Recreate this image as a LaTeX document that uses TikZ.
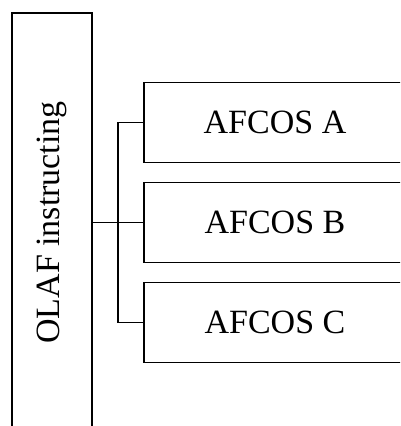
\documentclass[tikz,border=0pt]{standalone}
\usepackage{fontspec}
\setmainfont{Liberation Serif}
\usepackage{graphicx}
\usepackage{tikz}
\usetikzlibrary{positioning}

\begin{document}
\begin{tikzpicture}[x=1pt, y=-1pt, line width=1.4pt,
    unitbox/.style={draw=black, rectangle, inner sep=0pt, outer sep=0pt,
      font=\fontsize{34}{41}\selectfont},
    node distance=20pt]
    \useasboundingbox (0,0) rectangle (400,426);
    \clip (0,0) rectangle (400,426);
    % instructing office (runs off the page at the bottom)
    \node[unitbox, minimum width=80pt, minimum height=419pt] (olaf) at (52,222.5)
      {\rotatebox{90}{OLAF instructing}};
    % three coordinating offices
    \node[unitbox, minimum width=262pt, minimum height=80pt] (afcosA) at (275,122.5) {AFCOS A};
    \node[unitbox, minimum width=262pt, minimum height=80pt, below=of afcosA] (afcosB) {AFCOS B};
    \node[unitbox, minimum width=262pt, minimum height=80pt, below=of afcosB] (afcosC) {AFCOS C};
    % bracket
    \coordinate (bar) at (118,0);
    \draw (olaf.east |- afcosB.west) -- (afcosB.west);
    \draw (afcosA.west) -- (afcosA.west -| bar) -- (afcosC.west -| bar) -- (afcosC.west);
  \end{tikzpicture}
\end{document}
